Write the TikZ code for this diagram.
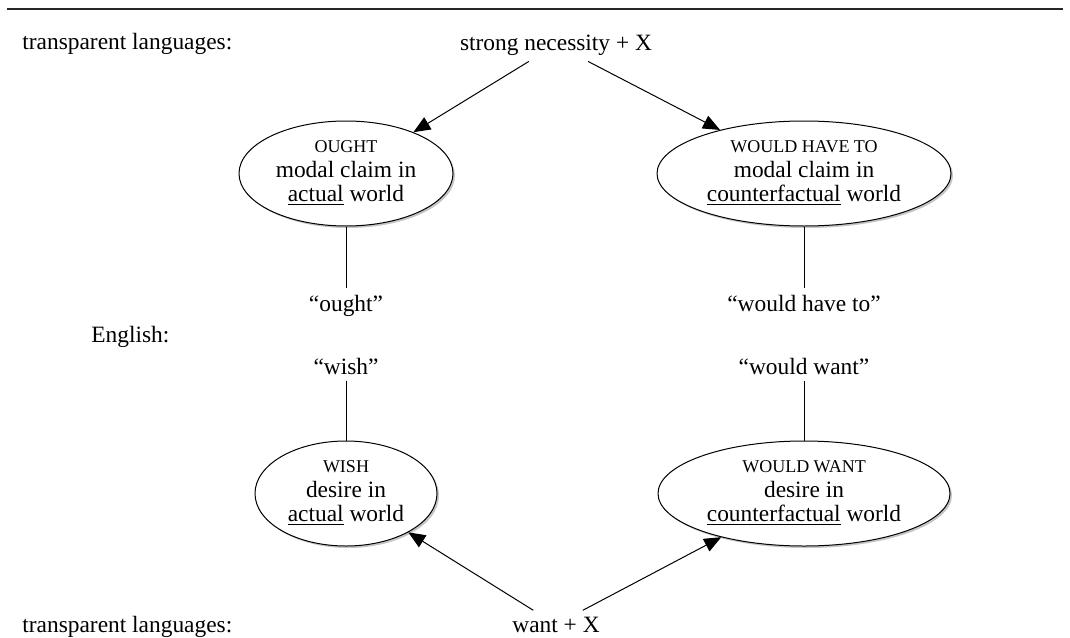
\documentclass[tikz,border=0pt]{standalone}
\usepackage{fontspec}
\setmainfont{Liberation Serif}
\usetikzlibrary{arrows.meta,shapes.geometric,shadows}
\newcommand{\fsc}[1]{{\fontsize{9}{12}\selectfont #1}}
\begin{document}
\begin{tikzpicture}[x=0.5pt,y=-0.5pt]
\tikzset{
  lbl/.style={inner sep=3pt, font=\fontsize{11.7}{12}\selectfont},
  world/.style={ellipse, draw, line width=0.5pt, fill=white, align=center,
    inner sep=0pt, minimum height=52.5pt, font=\fontsize{11.7}{12.2}\selectfont,
    drop shadow={shadow xshift=1pt, shadow yshift=-1pt, fill=black!45}},
  arr/.style={-{Triangle[length=8.5pt,width=7pt]}, line width=0.5pt},
  link/.style={line width=0.5pt}
}
\useasboundingbox (0,0) rectangle (1070,637);
\draw[line width=1pt, black!85] (7,8.5) -- (1063,8.5);

\node[lbl, anchor=base west] (tl1) at (16,49) {transparent languages:};
\node[lbl, anchor=base] (sn) at (556,50) {strong necessity + X};

\node[world, minimum width=107pt] (ought) at (346,173.5)
  {\fsc{OUGHT}\\modal claim in\\\underline{actual} world};
\node[world, minimum width=147pt] (wht) at (804,173.5)
  {\fsc{WOULD HAVE TO}\\modal claim in\\\underline{counterfactual} world};

\node[lbl, anchor=base] (qought) at (346,311) {“ought”};
\node[lbl, anchor=base] (qwht) at (804,311) {“would have to”};
\node[lbl, anchor=base west] (eng) at (85,342) {English:};
\node[lbl, anchor=base] (qwish) at (346,374) {“wish”};
\node[lbl, anchor=base] (qww) at (804,374) {“would want”};

\node[world, minimum width=91pt] (wish) at (346,493.5)
  {\fsc{WISH}\\desire in\\\underline{actual} world};
\node[world, minimum width=146pt] (ww) at (804,493.5)
  {\fsc{WOULD WANT}\\desire in\\\underline{counterfactual} world};

\node[lbl, anchor=base] (want) at (556,632) {want + X};
\node[lbl, anchor=base west] (tl2) at (16,632) {transparent languages:};

\draw[arr] (sn) -- (ought);
\draw[arr] (sn) -- (wht);
\draw[link] (ought) -- (qought);
\draw[link] (wht) -- (qwht);
\draw[link] (qwish) -- (wish);
\draw[link] (qww) -- (ww);
\draw[arr] (want) -- (wish);
\draw[arr] (want) -- (ww);
\end{tikzpicture}
\end{document}
